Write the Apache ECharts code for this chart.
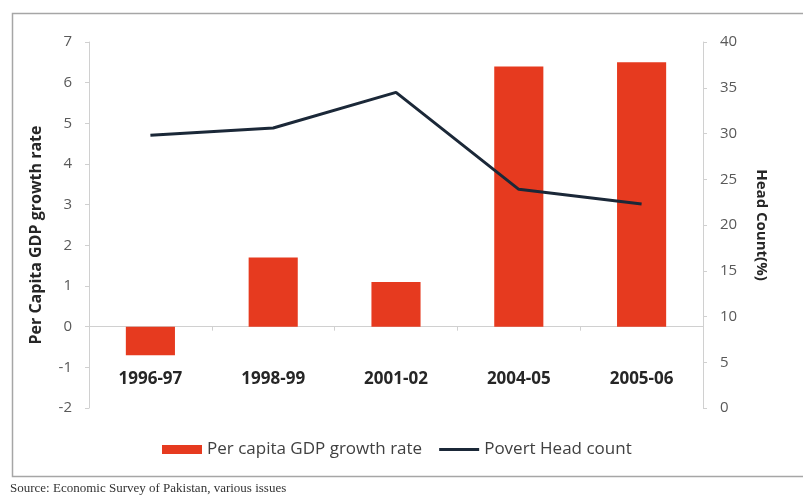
<!DOCTYPE html>
<html>
<head>
<meta charset="utf-8">
<script src="https://cdn.jsdelivr.net/npm/echarts@6/dist/echarts.min.js"></script>
<style>
  html, body { margin: 0; padding: 0; background: #fff; }
  #chart { width: 803px; height: 499px; }
</style>
</head>
<body>
<div id="chart"></div>
<script>
// Fiscal years shown on the category axis
const categories = ['1996-97', '1998-99', '2001-02', '2004-05', '2005-06'];
// Per capita GDP growth rate (%), left axis
const gdpGrowth = [-0.7, 1.7, 1.1, 6.4, 6.5];
// Poverty head count (%), right axis
const headCount = [29.8, 30.6, 34.5, 23.9, 22.3];

const leftTicks = { min: -2, max: 7, step: 1 };
const rightTicks = { min: 0, max: 40, step: 5 };

const axisGrey = '#d0d0d0';
const labelGrey = '#595959';
const sans = '"Open Sans", "Liberation Sans", sans-serif';

const chart = echarts.init(document.getElementById('chart'), null, { renderer: 'canvas' });

chart.setOption({
  animation: false,
  backgroundColor: '#ffffff',
  grid: { left: 89, right: 100, top: 42, bottom: 91 },
  legend: {
    left: 157,
    top: 436,
    itemGap: 17,
    itemWidth: 40,
    itemHeight: 9,
    textStyle: { fontFamily: sans, fontSize: 17, color: '#404040' },
    data: [
      { name: 'Per capita GDP growth rate', icon: 'rect' },
      { name: 'Povert Head count', icon: 'path://M0 0H40V3H0Z' }
    ]
  },
  xAxis: {
    type: 'category',
    data: categories,
    boundaryGap: true,
    axisLine: { onZero: true, onZeroAxisIndex: 0, lineStyle: { color: axisGrey, width: 1 } },
    axisTick: { show: true, length: 4, lineStyle: { color: axisGrey } },
    axisLabel: {
      margin: -37,
      fontFamily: sans,
      fontSize: 17,
      fontWeight: 'bold',
      color: '#262626'
    },
    splitLine: { show: false }
  },
  yAxis: [
    {
      type: 'value',
      min: leftTicks.min,
      max: leftTicks.max,
      interval: leftTicks.step,
      position: 'left',
      name: 'Per Capita GDP growth rate',
      nameLocation: 'middle',
      nameGap: 45,
      nameTextStyle: { fontFamily: sans, fontSize: 16, fontWeight: 'bold', color: '#262626', padding: [0, 0, 0, -20] },
      axisLine: { show: true, lineStyle: { color: axisGrey } },
      axisTick: { show: true, length: 4, lineStyle: { color: axisGrey } },
      axisLabel: { margin: 17, fontFamily: sans, fontSize: 15, color: labelGrey },
      splitLine: { show: false }
    },
    {
      type: 'value',
      min: rightTicks.min,
      max: rightTicks.max,
      interval: rightTicks.step,
      position: 'right',
      name: 'Head Count(%)',
      nameLocation: 'middle',
      nameRotate: -90,
      nameGap: 45,
      nameTextStyle: { fontFamily: sans, fontSize: 15, fontWeight: 'bold', color: '#262626', padding: [0, 0, 6, 0] },
      axisLine: { show: true, lineStyle: { color: axisGrey } },
      axisTick: { show: true, length: 4, lineStyle: { color: axisGrey } },
      axisLabel: { margin: 17, fontFamily: sans, fontSize: 15, color: labelGrey },
      splitLine: { show: false }
    }
  ],
  series: [
    {
      name: 'Per capita GDP growth rate',
      type: 'bar',
      yAxisIndex: 0,
      data: gdpGrowth,
      barWidth: '40%',
      itemStyle: { color: '#e63a1f' }
    },
    {
      name: 'Povert Head count',
      type: 'line',
      yAxisIndex: 1,
      data: headCount,
      symbol: 'none',
      lineStyle: { color: '#1b2838', width: 3 },
      itemStyle: { color: '#1b2838' }
    }
  ],
  graphic: [
    {
      type: 'rect',
      silent: true,
      shape: { x: 12.5, y: 13.5, width: 800, height: 463 },
      style: { fill: 'none', stroke: '#a6a6a6', lineWidth: 1.5 }
    },
    {
      type: 'text',
      left: 10,
      top: 482,
      style: {
        text: 'Source: Economic Survey of Pakistan, various issues',
        font: '13px "Liberation Serif", "DejaVu Serif", serif',
        fill: '#333333'
      }
    }
  ]
});
</script>
</body>
</html>
